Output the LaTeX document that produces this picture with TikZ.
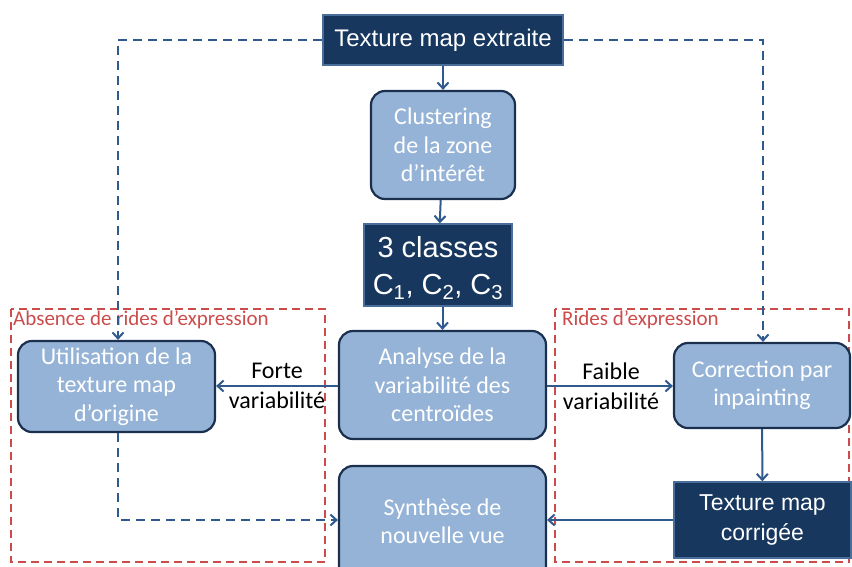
\documentclass[tikz,border=0pt]{standalone}
\usepackage{fontspec}
\setmainfont{Carlito}
\newfontfamily\arialf{Liberation Sans}
\usetikzlibrary{arrows.meta,positioning,calc}
\definecolor{navy}{HTML}{17375E}
\definecolor{lightb}{HTML}{95B3D7}
\definecolor{bord}{HTML}{1B2F4E}
\definecolor{arr}{HTML}{2F5A8E}
\definecolor{redd}{HTML}{CC4C4C}
\definecolor{dkbord}{HTML}{4A6E9A}
\begin{document}
\begin{tikzpicture}[x=1pt,y=-1pt,
  lightbox/.style={draw=bord,line width=2.2pt,fill=lightb,rounded corners=14pt,text=white,align=center,font=\fontsize{24}{28.5}\selectfont,inner sep=0pt},
  darkbox/.style={draw=dkbord,line width=1.4pt,fill=navy,text=white,align=center,inner sep=0pt},
  conn/.style={draw=arr,line width=2pt,-{Straight Barb[length=6pt,width=11pt]}},
  dconn/.style={conn,dash pattern=on 9pt off 6pt},
  zone/.style={draw=redd,line width=2pt,dash pattern=on 8pt off 5pt},
  lab/.style={font=\fontsize{24}{30}\selectfont,align=center,inner sep=1pt},
  zlab/.style={font=\fontsize{21}{24}\selectfont,text=redd,inner sep=0pt,anchor=north west}]
\useasboundingbox (0,0) rectangle (852,566);
\begin{scope}
\clip (0,0) rectangle (852,566);
% zones
\draw[zone] (11,309) rectangle (325,562);
\draw[zone] (555,309) rectangle (849,562);
\node[zlab] (zl) at (13,310) {Absence de rides d’expression};
\node[zlab] (zr) at (562,310) {Rides d’expression};
% nodes
\node[darkbox,minimum width=240pt,minimum height=50pt,font=\arialf\fontsize{24}{26}\selectfont] (tme) at (443,40) {Texture map extraite};
\node[lightbox,minimum width=144pt,minimum height=108pt] (clu) at (443,145) {Clustering\\de la zone\\d’intérêt};
\node[darkbox,minimum width=148pt,minimum height=82pt] (cls) at (438,265) {};
\node[darkbox,draw=none,fill=none,font=\arialf\fontsize{29}{37}\selectfont] (clst) at (438,268) {3 classes\\C\textsubscript{1}, C\textsubscript{2}, C\textsubscript{3}};
\node[lightbox,minimum width=207pt,minimum height=108pt] (ana) at (442.5,385) {Analyse de la\\variabilité des\\centroïdes};
\node[lightbox,minimum width=197pt,minimum height=91pt] (uti) at (116.5,386.5) {Utilisation de la\\texture map\\d’origine};
\node[lightbox,minimum width=176pt,minimum height=85pt] (cor) at (762,385.5) {Correction par\\inpainting};
\node[darkbox,minimum width=177pt,minimum height=76pt,font=\arialf\fontsize{23}{30}\selectfont] (tmc) at (762.5,520) {Texture map\\corrigée};
\node[lightbox,minimum width=207pt,minimum height=120pt] (syn) at (442.5,526) {};
\node[lightbox,draw=none,fill=none] (synt) at (442.5,521) {Synthèse de\\nouvelle vue};
% connectors
\draw[conn] (tme) -- (clu);
\draw[conn] (clu) -- (cls);
\draw[conn] (cls.south -| ana.north) -- (ana);
\draw[conn] (ana.west |- 0,386) -- (uti.east |- 0,386);
\draw[conn] (ana.east |- 0,386) -- (cor.west |- 0,386);
\draw[conn] (cor) -- (tmc);
\draw[conn] (tmc.west |- 0,520) -- (syn.east |- 0,520);
\coordinate (tl) at (118,40);
\coordinate (tr) at (763,40);
\coordinate (ub) at (118,520);
\draw[dconn] (tme.west) -- (tl) -- (uti.north -| tl);
\draw[dconn] (tme.east) -- (tr) -- (cor.north -| tr);
\draw[dconn] (uti.south -| ub) -- (ub) -- (syn.west |- ub);
% labels
\node[lab] (fo) at (277,386) {Forte\\variabilité};
\node[lab] (fa) at (611,386) {Faible\\variabilité};
\end{scope}
\end{tikzpicture}
\end{document}
